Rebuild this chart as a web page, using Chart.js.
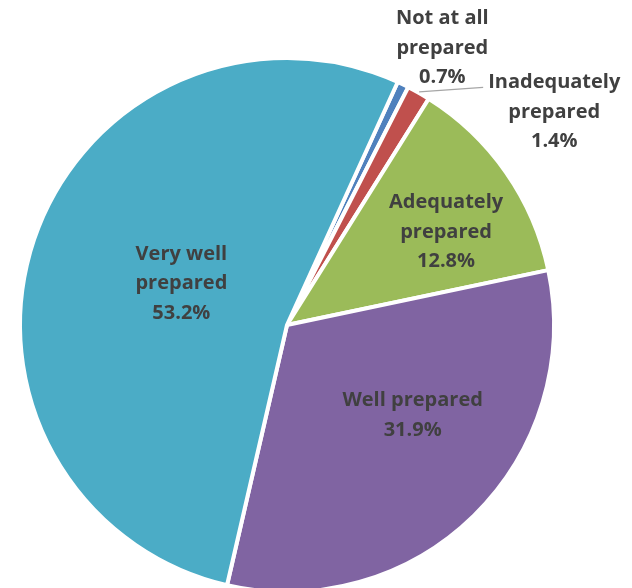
<!DOCTYPE html>
<html>
<head>
<meta charset="utf-8">
<script src="https://cdn.jsdelivr.net/npm/chart.js@4"></script>
<style>
html,body{margin:0;padding:0;background:#fff;}
#wrap{width:632px;height:588px;overflow:hidden;position:relative;}
canvas{display:block;}
</style>
</head>
<body>
<div id="wrap"><canvas id="c" width="632" height="650"></canvas></div>
<script>
const categories = ["Not at all prepared", "Inadequately prepared", "Adequately prepared", "Well prepared", "Very well prepared"];
const labelLines = [["Not at all", "prepared"], ["Inadequately", "prepared"], ["Adequately", "prepared"], ["Well prepared"], ["Very well", "prepared"]];
const values = [0.7, 1.4, 12.8, 31.9, 53.2];
const colors = ["#4F81BD", "#C0504D", "#9BBB59", "#8064A2", "#4BACC6"];
// label placement: radius factor and angle offset (degrees) relative to slice middle
const labelRadius = [1.19, 1.28, 0.69, 0.58, 0.425];
const labelAngleShift = [3.5, 21.9, 4.6, -9.8, 2.7];
const leader = [false, true, false, false, false];

const labelPlugin = {
  id: 'pieLabels',
  afterDatasetsDraw(chart) {
    const ctx = chart.ctx;
    const meta = chart.getDatasetMeta(0);
    const lh = 29.5;
    ctx.save();
    ctx.font = 'bold 20px "Open Sans", Lato, sans-serif';
    ctx.fillStyle = '#404040';
    ctx.textAlign = 'center';
    ctx.textBaseline = 'middle';
    meta.data.forEach((arc, i) => {
      const p = arc.getProps(['x', 'y', 'startAngle', 'endAngle', 'outerRadius'], true);
      const R = p.outerRadius;
      const mid = (p.startAngle + p.endAngle) / 2 + labelAngleShift[i] * Math.PI / 180;
      const r = R * labelRadius[i];
      const cx = p.x + Math.cos(mid) * r;
      const cy = p.y + Math.sin(mid) * r;
      const lines = labelLines[i].concat([values[i].toFixed(1) + '%']);
      const y0 = cy - (lines.length - 1) * lh / 2;
      lines.forEach((t, k) => ctx.fillText(t, cx, y0 + k * lh));
      if (leader[i]) {
        const a = (p.startAngle + p.endAngle) / 2;
        const sx = p.x + Math.cos(a) * (R + 1);
        const sy = p.y + Math.sin(a) * (R + 1);
        const w = ctx.measureText(lines[0]).width;
        const ex = cx - w / 2 - 5;
        const ey = y0 + 5;
        ctx.beginPath();
        ctx.moveTo(sx, sy);
        ctx.lineTo(ex, ey);
        ctx.strokeStyle = '#A6A6A6';
        ctx.lineWidth = 1.3;
        ctx.stroke();
      }
    });
    ctx.restore();
  }
};

new Chart(document.getElementById('c'), {
  type: 'pie',
  data: {
    labels: categories,
    datasets: [{
      data: values,
      backgroundColor: colors,
      borderColor: '#ffffff',
      borderWidth: 4
    }]
  },
  options: {
    responsive: false,
    devicePixelRatio: 1,
    animation: false,
    rotation: 24.5,
    layout: { padding: { left: 18, top: 56, right: 76, bottom: 56 } },
    plugins: { legend: { display: false }, tooltip: { enabled: false } }
  },
  plugins: [labelPlugin]
});
</script>
</body>
</html>
